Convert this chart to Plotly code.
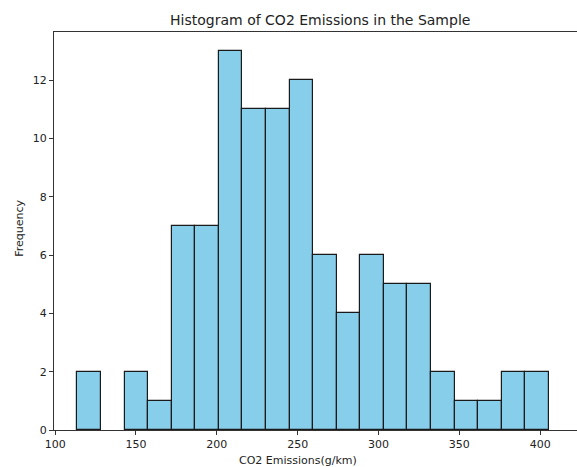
import plotly.graph_objects as go

# Data
bin_start = 113.8
bin_width = 14.58
counts = [2, 0, 2, 1, 7, 7, 13, 11, 11, 12, 6, 4, 6, 5, 5, 2, 1, 1, 2, 2]
x_ticks = [100, 150, 200, 250, 300, 350, 400]
y_ticks = [0, 2, 4, 6, 8, 10, 12]
title_text = "Histogram of CO2 Emissions in the Sample"
x_label = "CO2 Emissions(g/km)"
y_label = "Frequency"

centers = [bin_start + bin_width * (i + 0.5) for i in range(len(counts))]
edge_widths = [0 if c == 0 else 1.2 for c in counts]

fig = go.Figure()
fig.add_trace(go.Bar(
    x=centers, y=counts, width=[bin_width] * len(counts),
    marker=dict(color="#87CEEB", line=dict(color="#1a1a1a", width=edge_widths)),
    showlegend=False,
))

W, H = 577, 467
font_family = "DejaVu Sans"
fig.update_layout(
    width=W, height=H,
    margin=dict(l=54, r=0, t=32, b=37, autoexpand=False),
    paper_bgcolor="white", plot_bgcolor="white",
    font=dict(family=font_family, size=11, color="#222"),
    bargap=0,
    title=dict(text=title_text, x=0.555, xanchor="center",
               y=1 - 20 / H, yanchor="middle", font=dict(size=14, color="#222")),
    xaxis=dict(range=[99.3, 422.8], tickvals=x_ticks, showgrid=False, zeroline=False,
               automargin=False,
               showline=True, linecolor="#333", linewidth=1, mirror=True,
               ticks="outside", ticklen=4, tickcolor="#333"),
    yaxis=dict(range=[0, 13.65], tickvals=y_ticks, showgrid=False, zeroline=False,
               automargin=False,
               showline=True, linecolor="#333", linewidth=1,
               ticks="outside", ticklen=4, tickcolor="#333"),
    annotations=[
        dict(text=x_label, xref="x", yref="paper", x=250, y=0, xanchor="center",
             yanchor="middle", yshift=-30, showarrow=False, font=dict(size=11, color="#222")),
        dict(text=y_label, xref="paper", yref="y", x=0, y=6.9, xanchor="center",
             yanchor="middle", xshift=-34, textangle=-90, showarrow=False,
             font=dict(size=11, color="#222")),
    ],
)

fig.write_html(
    "out.html",
    config={"displayModeBar": False},
    post_script="document.body.style.margin='0';document.body.style.overflow='hidden';",
)
